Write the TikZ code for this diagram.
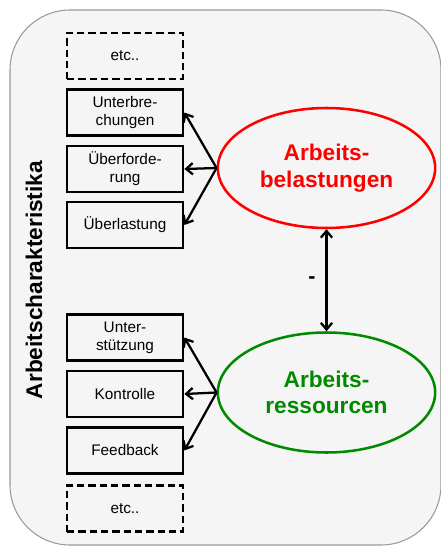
\documentclass[tikz,border=0pt]{standalone}
\usepackage{fontspec}
\setmainfont{Liberation Sans}
\usepackage{tikz}
\usetikzlibrary{shapes.geometric,arrows.meta}
\definecolor{panel}{HTML}{F5F5F5}
\definecolor{rim}{HTML}{9A9A9A}
\definecolor{belred}{HTML}{FF0000}
\definecolor{resgreen}{HTML}{008A00}

\begin{document}
\begin{tikzpicture}[x=0.75pt,y=-0.75pt,
  itembox/.style={draw,line width=2.1pt,minimum width=87pt,minimum height=34.5pt,
    inner sep=0pt,align=center,font=\fontsize{11.5}{13.5}\selectfont},
  etcbox/.style={itembox,dash pattern=on 5.5pt off 3pt},
  factor/.style={ellipse,line width=1.9pt,minimum width=163pt,minimum height=90pt,
    inner sep=0pt,align=center,font=\bfseries\fontsize{17}{20}\selectfont},
  tip/.tip={Straight Barb[length=5pt,width=8.5pt]},
  arr/.style={-tip,line width=1.7pt}]
  \useasboundingbox (0,0) rectangle (440,546);
  \draw[rim,fill=panel,line width=0.8pt,rounded corners=45pt] (10,10) rectangle (441,545);
  \node[rotate=90,font=\bfseries\fontsize{17}{20}\selectfont] (label) at (34,280) {Arbeitscharakteristika};
  % Belastungen
  \node[etcbox] (etcA) at (125,56) {etc..};
  \node[itembox] (unterbr) at (125,112.5) {Unterbre-\\chungen};
  \node[itembox] (ueberf) at (125,169) {Überforde-\\rung};
  \node[itembox] (ueberl) at (125,225) {Überlastung};
  \node[factor,draw=belred,text=belred] (belast) at (326.5,168) {Arbeits-\\belastungen};
  % Ressourcen
  \node[itembox] (unterst) at (125,337.5) {Unter-\\stützung};
  \node[itembox] (kontr) at (125,394) {Kontrolle};
  \node[itembox] (feedb) at (125,450.5) {Feedback};
  \node[etcbox] (etcB) at (125,508.5) {etc..};
  \node[factor,draw=resgreen,text=resgreen] (ress) at (326.5,392.5) {Arbeits-\\ressourcen};
  \foreach \b in {unterbr,ueberf,ueberl}
    \draw[arr] (belast.west) -- (\b.east);
  \foreach \b in {unterst,kontr,feedb}
    \draw[arr] (ress.west) -- (\b.east);
  \draw[arr,tip-tip] (belast.south) -- node[left=4pt,font=\bfseries\fontsize{16}{18}\selectfont] (minus) {-} (ress.north);
\end{tikzpicture}
\end{document}
